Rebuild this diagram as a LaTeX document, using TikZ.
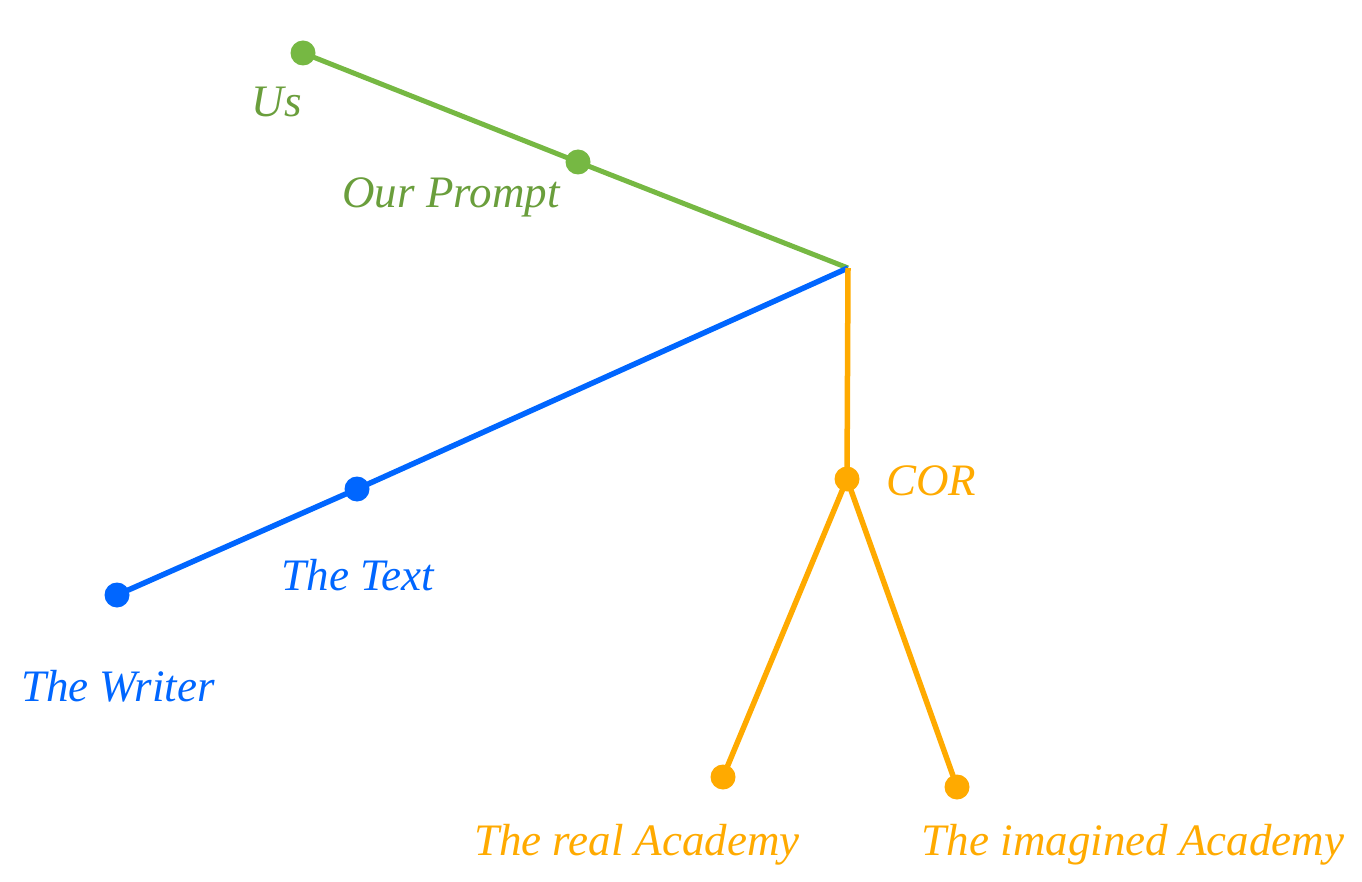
\documentclass[tikz,border=0pt]{standalone}
\usepackage{fontspec}
\setmainfont{Liberation Serif}
\definecolor{grn}{HTML}{76B843}
\definecolor{grntxt}{HTML}{6A9E3C}
\definecolor{blu}{HTML}{0066FF}
\definecolor{org}{HTML}{FFAA00}
\tikzset{
  dotnode/.style={circle, fill=#1, inner sep=0pt, minimum size=25pt},
  lbl/.style={text=#1, font=\fontsize{45}{47}\selectfont\itshape, inner sep=0pt},
  conn/.style={draw=#1, line width=5.5pt}
}
\begin{document}
\begin{tikzpicture}[x=1pt,y=-1pt]
\useasboundingbox (0,0) rectangle (1362,882);
\coordinate (J) at (848,268);
% green
\node[dotnode=grn] (us) at (303,53) {};
\node[dotnode=grn] (prompt) at (578,162) {};
\draw[conn=grn, line width=5pt] (us.center) -- (prompt.center) -- (J);
\node[lbl=grntxt] (uslbl) at (277,102) {Us};
\node[lbl=grntxt] (promptlbl) at (451,197) {Our Prompt};
% blue
\node[dotnode=blu] (writer) at (117,595) {};
\node[dotnode=blu] (text) at (357,489) {};
\draw[conn=blu] (writer.center) -- (text.center) -- (J);
\node[lbl=blu] (textlbl) at (358,575) {The Text};
\node[lbl=blu] (writerlbl) at (118,686) {The Writer};
% orange
\node[dotnode=org] (cor) at (847,479) {};
\node[dotnode=org] (real) at (723,777) {};
\node[dotnode=org] (imag) at (957,787) {};
\draw[conn=org] (J) -- (cor.center);
\draw[conn=org] (cor.center) -- (real.center);
\draw[conn=org] (cor.center) -- (imag.center);
\node[lbl=org] (corlbl) at (931,481) {COR};
\node[lbl=org] (reallbl) at (637,845) {The real Academy};
\node[lbl=org] (imaglbl) at (1133,845) {The imagined Academy};
\end{tikzpicture}
\end{document}
